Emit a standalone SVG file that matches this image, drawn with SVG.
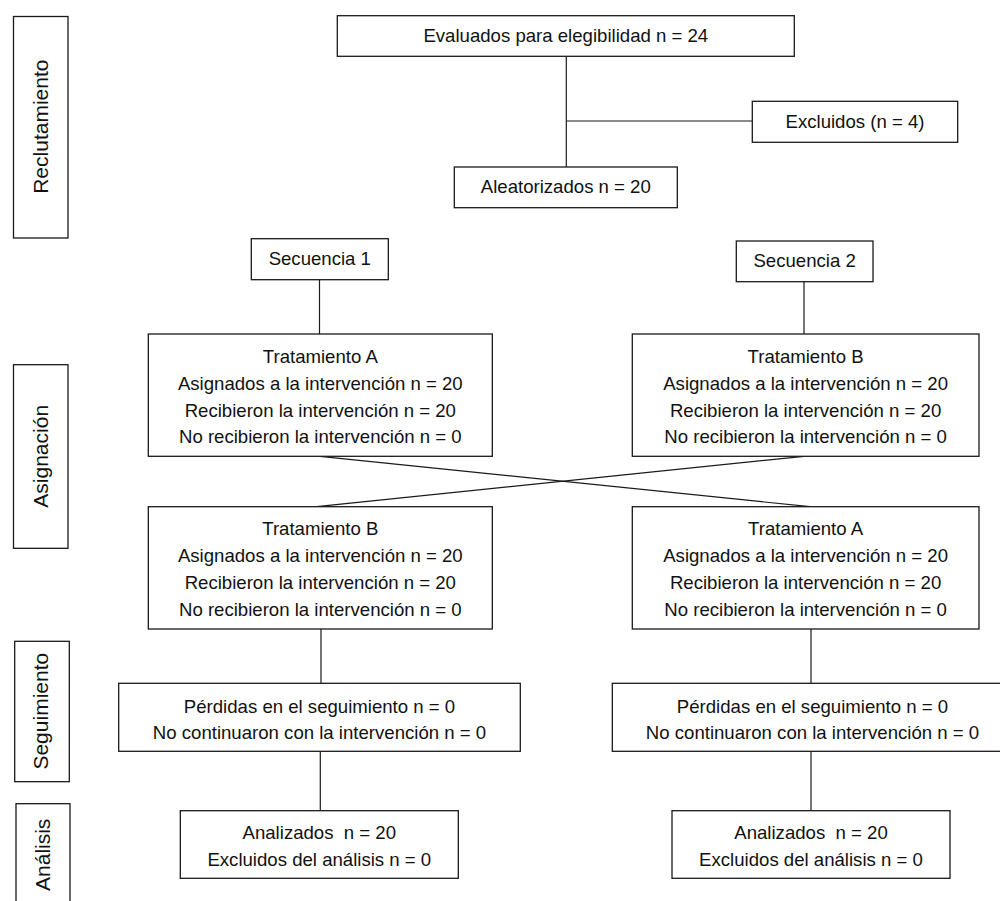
<svg xmlns="http://www.w3.org/2000/svg" width="1000" height="901" viewBox="0 0 1000 901">
<style>
.b{fill:#fff;stroke:#1a1a1a;stroke-width:1.3}
.c{fill:none;stroke:#1a1a1a;stroke-width:1.2}
text{font-family:"Liberation Sans",Arial,sans-serif;fill:#111;text-anchor:middle}
.t{font-size:18.6px}
.s{font-size:21px}
</style>
<rect width="1000" height="901" fill="#fff"/>
<g id="connectors">
<line class="c" x1="566.3" y1="56.3" x2="566.3" y2="167"/>
<line class="c" x1="566.3" y1="121" x2="752.3" y2="121"/>
<line class="c" x1="319.5" y1="279.7" x2="319.5" y2="334"/>
<line class="c" x1="804" y1="281.7" x2="804" y2="334"/>
<line class="c" x1="320" y1="456.3" x2="810" y2="506.7"/>
<line class="c" x1="804" y1="456.3" x2="316.7" y2="506.7"/>
<line class="c" x1="321" y1="629" x2="321" y2="683.3"/>
<line class="c" x1="811" y1="629" x2="811" y2="683.3"/>
<line class="c" x1="320.3" y1="751.3" x2="320.3" y2="810.7"/>
<line class="c" x1="811" y1="751.3" x2="811" y2="810.7"/>
</g>
<g id="lab-reclutamiento"><rect class="b" x="13.5" y="16.5" width="54.5" height="221.5"/><text class="s" transform="translate(48.3,126.7) rotate(-90)">Reclutamiento</text></g>
<g id="lab-asignacion"><rect class="b" x="13.5" y="364.7" width="54.5" height="183.6"/><text class="s" transform="translate(47.7,456.3) rotate(-90)">Asignación</text></g>
<g id="lab-seguimiento"><rect class="b" x="14.7" y="641.3" width="54.6" height="140.4"/><text class="s" transform="translate(48.3,711.2) rotate(-90)">Seguimiento</text></g>
<g id="lab-analisis"><rect class="b" x="16" y="803.7" width="54" height="110"/><text class="s" transform="translate(50,854.8) rotate(-90)">Análisis</text></g>
<g id="evaluados"><rect class="b" x="337.3" y="15.7" width="457" height="40.6"/><text class="t" x="565.8" y="42.3">Evaluados para elegibilidad n = 24</text></g>
<g id="excluidos"><rect class="b" x="752.3" y="101.3" width="205.4" height="41"/><text class="t" x="855" y="128.3">Excluidos (n = 4)</text></g>
<g id="aleatorizados"><rect class="b" x="454.3" y="167" width="223" height="40.7"/><text class="t" x="565.8" y="193.3">Aleatorizados n = 20</text></g>
<g id="secuencia1"><rect class="b" x="251.3" y="238.7" width="137" height="41"/><text class="t" x="319.8" y="265.3">Secuencia 1</text></g>
<g id="secuencia2"><rect class="b" x="736.3" y="241" width="136.7" height="40.7"/><text class="t" x="804.6" y="267.3">Secuencia 2</text></g>
<g id="s1-tratA"><rect class="b" x="148.3" y="334" width="344" height="122.3"/>
<text class="t" x="320.3" y="363.4">Tratamiento A</text>
<text class="t" x="320.3" y="390">Asignados a la intervención n = 20</text>
<text class="t" x="320.3" y="416.7">Recibieron la intervención n = 20</text>
<text class="t" x="320.3" y="443.3">No recibieron la intervención n = 0</text></g>
<g id="s2-tratB"><rect class="b" x="632.3" y="334" width="346.7" height="122.3"/>
<text class="t" x="805.6" y="363.4">Tratamiento B</text>
<text class="t" x="805.6" y="390">Asignados a la intervención n = 20</text>
<text class="t" x="805.6" y="416.7">Recibieron la intervención n = 20</text>
<text class="t" x="805.6" y="443.3">No recibieron la intervención n = 0</text></g>
<g id="s1-tratB"><rect class="b" x="148.3" y="506.7" width="344" height="122.3"/>
<text class="t" x="320.3" y="535.3">Tratamiento B</text>
<text class="t" x="320.3" y="562.3">Asignados a la intervención n = 20</text>
<text class="t" x="320.3" y="589.3">Recibieron la intervención n = 20</text>
<text class="t" x="320.3" y="616">No recibieron la intervención n = 0</text></g>
<g id="s2-tratA"><rect class="b" x="632.3" y="506.7" width="346.7" height="122.3"/>
<text class="t" x="805.6" y="535.3">Tratamiento A</text>
<text class="t" x="805.6" y="562.3">Asignados a la intervención n = 20</text>
<text class="t" x="805.6" y="589.3">Recibieron la intervención n = 20</text>
<text class="t" x="805.6" y="616">No recibieron la intervención n = 0</text></g>
<g id="s1-seguimiento"><rect class="b" x="118.7" y="683.3" width="401.6" height="68"/>
<text class="t" x="319.5" y="712.7">Pérdidas en el seguimiento n = 0</text>
<text class="t" x="319.5" y="739.3">No continuaron con la intervención n = 0</text></g>
<g id="s2-seguimiento"><rect class="b" x="612.3" y="683.3" width="401.6" height="68"/>
<text class="t" x="812.5" y="712.7">Pérdidas en el seguimiento n = 0</text>
<text class="t" x="812.5" y="739.3">No continuaron con la intervención n = 0</text></g>
<g id="s1-analisis"><rect class="b" x="180.3" y="810.7" width="278" height="67.6"/>
<text class="t" x="319.3" y="839.3" xml:space="preserve">Analizados  n = 20</text>
<text class="t" x="319.3" y="866">Excluidos del análisis n = 0</text></g>
<g id="s2-analisis"><rect class="b" x="672" y="810.7" width="278" height="67.6"/>
<text class="t" x="811" y="839.3" xml:space="preserve">Analizados  n = 20</text>
<text class="t" x="811" y="866">Excluidos del análisis n = 0</text></g>
</svg>
